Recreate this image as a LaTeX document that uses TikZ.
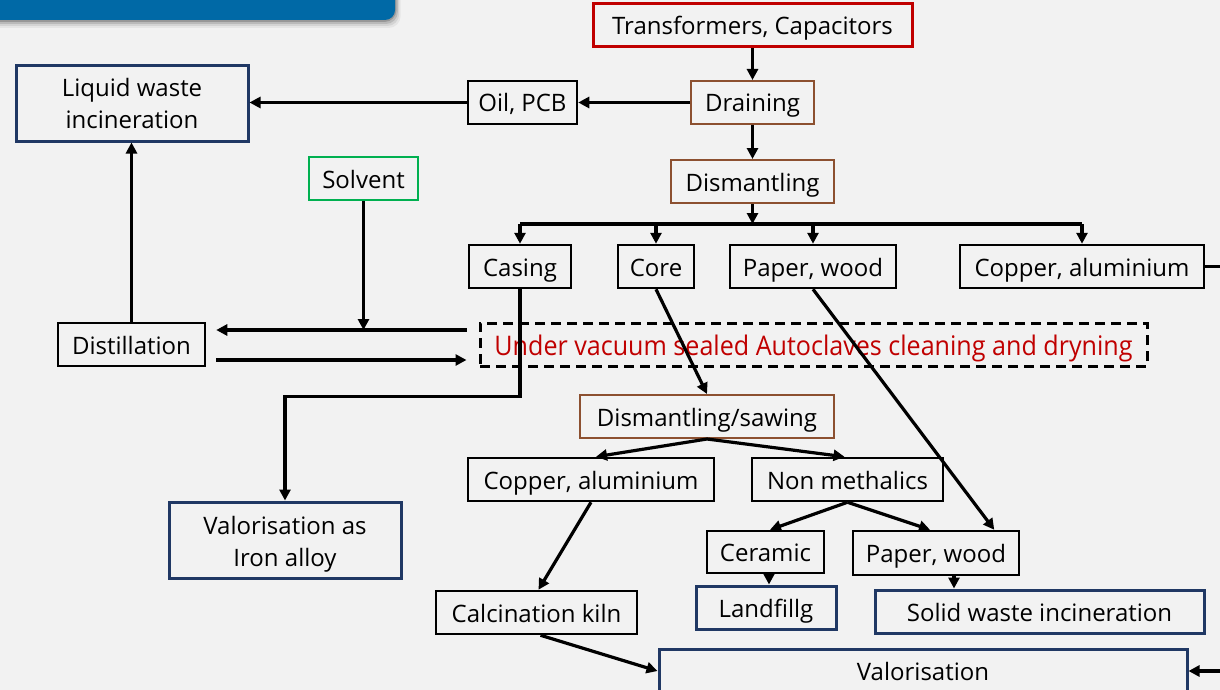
\documentclass[tikz,border=0pt]{standalone}
\usepackage{fontspec}
\setmainfont{Open Sans}
\usepackage{graphicx}
\usetikzlibrary{arrows.meta}
\definecolor{bg}{HTML}{F2F2F2}
\definecolor{banner}{HTML}{0069A6}
\definecolor{redc}{HTML}{C00000}
\definecolor{brownc}{HTML}{8C5030}
\definecolor{navyc}{HTML}{203864}
\definecolor{greenc}{HTML}{00B050}
\tikzset{
  boxbase/.style={draw=black, line width=2.5pt, inner sep=0pt, align=center,
    font=\fontsize{24}{32}\selectfont, text=black},
  box/.style={boxbase, text height=24pt, text depth=5pt},
  redbox/.style={box, draw=redc, line width=3pt},
  brownbox/.style={box, draw=brownc, line width=2pt},
  navybox/.style={box, draw=navyc, line width=3pt},
  navymulti/.style={boxbase, draw=navyc, line width=3pt},
  greenbox/.style={box, draw=greenc, line width=2.5pt},
  dashbox/.style={draw=black, line width=3pt, dash pattern=on 10pt off 6pt, inner sep=0pt,
    text height=26pt, text depth=5pt},
  conn/.style={line width=3.2pt, draw=black},
  arr/.style={conn, -{Triangle[length=11pt,width=11pt]}},
}
\begin{document}
\begin{tikzpicture}[x=1pt,y=-1pt]
\useasboundingbox (0,0) rectangle (1220,690);
\fill[bg] (0,0) rectangle (1220,690);
% banner with shadow
\foreach \i/\o in {8/0.05,6/0.08,4/0.12,2/0.18}{
  \fill[black, opacity=\o, rounded corners=12pt] (-30,-30) rectangle (395+\i*0.7,20+\i);
}
\fill[banner, rounded corners=10pt] (-30,-30) rectangle (395,20);

% nodes
\node[redbox, minimum width=319pt, minimum height=43pt] (T) at (752.5,25.5) {Transformers, Capacitors};
\node[brownbox, minimum width=123pt, minimum height=43pt] (Dr) at (752.5,102.5) {Draining};
\node[box, minimum width=109pt, minimum height=43pt] (Oil) at (522.5,102.5) {Oil, PCB};
\node[navymulti, minimum width=232pt, minimum height=75pt] (LW) at (132,103.5) {Liquid waste\\incineration};
\node[greenbox, minimum width=109pt, minimum height=43pt] (Solv) at (363.5,178.5) {Solvent};
\node[brownbox, minimum width=163pt, minimum height=43pt] (Dm) at (752.5,181.5) {Dismantling};
\node[box, minimum width=102pt, minimum height=43pt] (Cas) at (520,266.5) {Casing};
\node[box, minimum width=76pt, minimum height=43pt] (Core) at (656,266.5) {Core};
\node[box, minimum width=166pt, minimum height=43pt] (PW1) at (813,266.5) {Paper, wood};
\node[box, minimum width=244pt, minimum height=43pt] (CA1) at (1082,266.5) {Copper, aluminium};
\node[box, minimum width=147pt, minimum height=43pt] (Dist) at (131.5,344.5) {Distillation};
\node[dashbox, minimum width=667pt, minimum height=43pt, text=redc,
  font=\fontsize{27}{31}\selectfont] (AC) at (813.5,344.5)
  {\resizebox{638pt}{\height}{Under vacuum sealed Autoclaves cleaning and dryning}};
\node[brownbox, minimum width=254pt, minimum height=43pt] (DS) at (707,416.5) {Dismantling/sawing};
\node[box, minimum width=246pt, minimum height=43pt] (CA2) at (591,479.5) {Copper, aluminium};
\node[box, minimum width=191pt, minimum height=43pt] (NM) at (847.5,479.5) {Non methalics};
\node[navymulti, minimum width=232pt, minimum height=76pt] (Iron) at (285,540) {\rule{0pt}{26.5pt}Valorisation as\\Iron alloy};
\node[box, minimum width=117pt, minimum height=42pt] (Cer) at (765.5,552) {Ceramic};
\node[box, minimum width=166pt, minimum height=44pt] (PW2) at (936,553) {Paper, wood};
\node[navybox, minimum width=140pt, minimum height=43pt] (LF) at (766,607.5) {Landfillg};
\node[navybox, minimum width=329pt, minimum height=43pt] (SW) at (1039.5,611.5) {Solid waste incineration};
\node[box, minimum width=201pt, minimum height=43pt] (Calc) at (536.5,612.5) {Calcination kiln};
\node[navybox, minimum width=528pt, minimum height=44pt] (Val) at (923,671) {Valorisation};

% helper coordinates
\coordinate (bus) at (752.5,224);
\coordinate (edgeR) at (1224,0);
\coordinate (upS) at ([shift={(-12pt,14.5pt)}]AC.west);
\coordinate (upE) at ([shift={(10pt,14.5pt)}]Dist.east);
\coordinate (loS) at ([shift={(10pt,-15.5pt)}]Dist.east);
\coordinate (loE) at ([shift={(-12pt,-15.5pt)}]AC.west);

% connectors
\draw[arr] (T) -- (Dr);
\draw[arr] (Dr) -- (Oil);
\draw[arr] (Oil) -- (LW.east |- Oil);
\draw[arr] (Dr) -- (Dm);
\draw[arr] (Dm.south) -- (bus);
\draw[conn] (Cas.north |- bus) -- (CA1.north |- bus);
\foreach \n in {Cas,Core,PW1,CA1}{
  \draw[arr] (\n.north |- bus) -- (\n.north);
}
\draw[conn] (CA1.east) -- (CA1.east -| edgeR);
\draw[arr] (Val.east -| edgeR) -- (Val.east);

\draw[arr] (upS) -- (upE);
\draw[arr] (loS) -- (loE);
\draw[arr] (Solv.south) -- (Solv.south |- upS);
\draw[arr] (Dist.north) -- (Dist.north |- LW.south);

\draw[arr] (Cas.south) -- ++(0,107) -| (Iron.north);
\draw[arr] (Core.south) -- (DS.north);
\draw[arr] (PW1.south) -- ([xshift=-26pt]PW2.north east);
\draw[arr] (DS.south) -- ([xshift=5pt]CA2.north);
\draw[arr] (DS.south) -- ([xshift=-3pt]NM.north);
\draw[arr] (NM.south) -- ([xshift=4.5pt]Cer.north);
\draw[arr] (NM.south) -- ([xshift=-6pt]PW2.north);
\draw[arr] ([xshift=3.5pt]Cer.south) -- ([xshift=3.5pt]Cer.south |- LF.north);
\draw[arr] ([xshift=18pt]PW2.south) -- ([xshift=18pt]PW2.south |- SW.north);
\draw[arr] (CA2.south) -- ([xshift=2pt]Calc.north);
\draw[arr] ([xshift=4pt]Calc.south) -- (Val.west);
\end{tikzpicture}
\end{document}
